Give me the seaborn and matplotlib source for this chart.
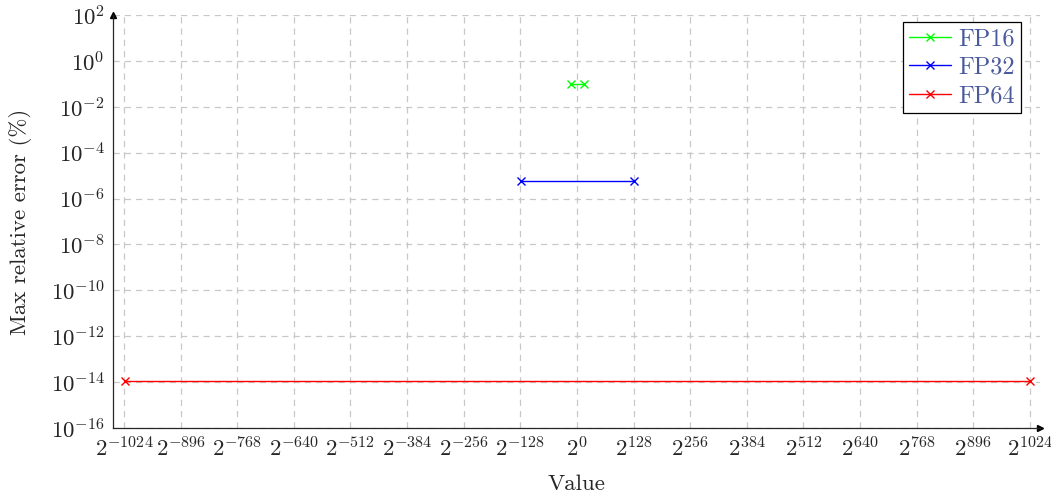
import matplotlib
matplotlib.use("Agg")
import matplotlib.pyplot as plt
from matplotlib import ticker
import seaborn as sns
import pandas as pd
import numpy as np

# exponent range (base 2) covered by each format, and its max relative error in %
formats = ["FP16", "FP32", "FP64"]
exp_lo = [-14, -126, -1022]
exp_hi = [15, 128, 1024]
max_err = [2.0**-10 * 100, 2.0**-24 * 100, 2.0**-53 * 100]
colors = ["#00ff00", "#0000ff", "#ff0000"]

xticks = list(range(-1024, 1025, 128))
yticks = [10.0**k for k in range(-16, 3, 2)]

rows = []
for f, lo, hi, e in zip(formats, exp_lo, exp_hi, max_err):
    rows.append({"fmt": f, "exp": lo, "err": e})
    rows.append({"fmt": f, "exp": hi, "err": e})
df = pd.DataFrame(rows)

sns.set_style("white")
plt.rcParams["font.family"] = ["cmr10", "DejaVu Serif"]
plt.rcParams["mathtext.fontset"] = "cm"
plt.rcParams["axes.formatter.use_mathtext"] = True

fig = plt.figure(figsize=(10.51, 4.96), dpi=100)
ax = fig.add_axes([113 / 1051, 1 - 428 / 496, (1040 - 113) / 1051, (428 - 15) / 496])

sns.lineplot(data=df, x="exp", y="err", hue="fmt", palette=dict(zip(formats, colors)),
             marker="x", markersize=6, linewidth=1.0, ax=ax)
for line in ax.get_lines():
    line.set_markeredgecolor(line.get_color())
    line.set_markeredgewidth(1.0)

ax.set_yscale("log")
ax.set_xlim(-1049, 1047)
ax.set_ylim(1e-16, 1e2)
ax.xaxis.set_major_locator(ticker.FixedLocator(xticks))
ax.xaxis.set_major_formatter(ticker.FuncFormatter(lambda v, p: r"$2^{%d}$" % int(v)))
ax.yaxis.set_major_locator(ticker.FixedLocator(yticks))
ax.yaxis.set_major_formatter(ticker.LogFormatterMathtext())
ax.yaxis.set_minor_locator(ticker.NullLocator())

ax.grid(True, color="#c8c8c8", linestyle=(0, (5, 4)), linewidth=0.9)
ax.set_axisbelow(True)
ax.tick_params(direction="inout", length=6, width=0.8, labelsize=16.5, pad=3)

for s in ["top", "right"]:
    ax.spines[s].set_visible(False)
for s in ["left", "bottom"]:
    ax.spines[s].set_linewidth(0.9)
ax.plot(1, 0, ">k", markersize=4, transform=ax.transAxes, clip_on=False)
ax.plot(0, 1, "^k", markersize=4, transform=ax.transAxes, clip_on=False)

ax.set_xlabel("Value", fontsize=16.5, labelpad=10)
ax.set_ylabel("Max relative error (%)", fontsize=16.5, labelpad=13)

leg = ax.legend(loc="upper right", bbox_to_anchor=(0.979, 0.982), fontsize=17.5,
                frameon=True, fancybox=False, edgecolor="black", framealpha=1,
                labelcolor="#4a5a9c", handlelength=1.7, borderpad=0.25,
                labelspacing=0.25, handletextpad=0.3, borderaxespad=0)
leg.get_frame().set_linewidth(0.9)

fig.savefig("out.png", dpi=100)
